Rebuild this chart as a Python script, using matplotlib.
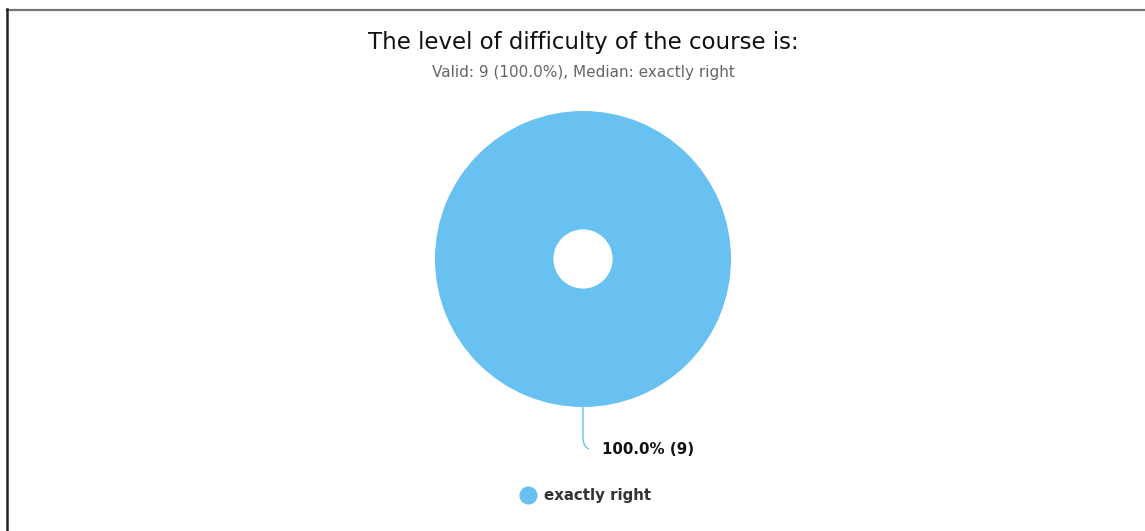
import matplotlib
matplotlib.use("Agg")
import matplotlib.pyplot as plt
from matplotlib.lines import Line2D
from matplotlib.path import Path
from matplotlib.patches import PathPatch
import numpy as np

title = "The level of difficulty of the course is:"
subtitle = "Valid: 9 (100.0%), Median: exactly right"
categories = ["exactly right"]
counts = [9]
colors = ["#68C1F0"]

W, H = 1145, 531
fig = plt.figure(figsize=(W / 100, H / 100), dpi=100)
ax = fig.add_axes([0, 0, 1, 1])

cx, cy, r = 583, 259, 148
wedges, _ = ax.pie(counts, colors=colors, center=(cx, cy), radius=r,
                   startangle=-90, wedgeprops=dict(width=r * 0.8, linewidth=0))
ax.set_xlim(0, W)
ax.set_ylim(H, 0)
ax.set_aspect("equal")
ax.axis("off")

# frame lines (top and left, as in the source)
ax.add_line(Line2D([7, W], [9.5, 9.5], color="#777777", lw=1.6))
ax.add_line(Line2D([7, 7], [9, H], color="#222222", lw=1.8))

ax.text(cx, 42, title, ha="center", va="center", fontsize=16.5, color="#111111")
ax.text(cx, 72, subtitle, ha="center", va="center", fontsize=11, color="#666666")

total = sum(counts)
for w, n in zip(wedges, counts):
    mid = np.deg2rad((w.theta1 + w.theta2) / 2)
    x0 = cx + r * np.cos(mid)
    y0 = cy + r * np.sin(mid)
    verts = [(x0, y0), (x0, y0 + 30), (x0, y0 + 40), (x0 + 6, y0 + 42)]
    codes = [Path.MOVETO, Path.LINETO, Path.CURVE3, Path.CURVE3]
    ax.add_patch(PathPatch(Path(verts, codes), fill=False, edgecolor=w.get_facecolor(), lw=1))
    ax.text(x0 + 19, y0 + 42, f"{100 * n / total:.1f}% ({n})", ha="left", va="center",
            fontsize=10.8, fontweight="bold", color="#111111")

handles = [Line2D([], [], marker="o", linestyle="none", markersize=12,
                  markerfacecolor=c, markeredgecolor=c) for c in colors]
leg = fig.legend(handles, categories, loc="center", bbox_to_anchor=(582 / W, 1 - 495.5 / H),
                 frameon=False, handletextpad=0.05, prop=dict(weight="bold", size=10.8))
for t in leg.get_texts():
    t.set_color("#333333")

fig.savefig("out.png", dpi=100)
